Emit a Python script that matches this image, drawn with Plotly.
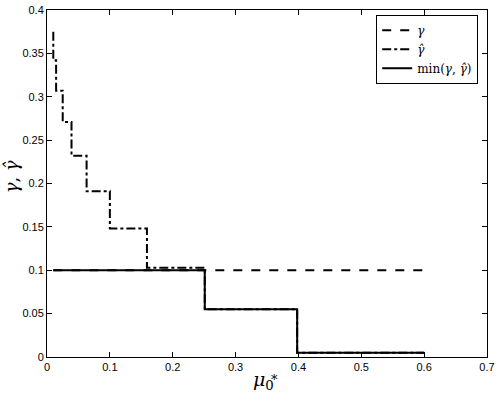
import plotly.graph_objects as go

# mu_0^* breakpoints and step values
mu_gamma = [0.01, 0.6]
gamma = [0.1, 0.1]

mu_hat = [0.01, 0.01, 0.0145, 0.025, 0.039, 0.063, 0.1, 0.159, 0.251, 0.398, 0.6]
gamma_hat = [0.375, 0.342, 0.307, 0.271, 0.232, 0.191, 0.148, 0.103, 0.055, 0.005, 0.005]

mu_min = [0.01, 0.251, 0.398, 0.6]
gamma_min = [0.1, 0.055, 0.005, 0.005]

x_ticks = [0, 0.1, 0.2, 0.3, 0.4, 0.5, 0.6, 0.7]
y_ticks = [0, 0.05, 0.1, 0.15, 0.2, 0.25, 0.3, 0.35, 0.4]

serif = 'DejaVu Serif'

fig = go.Figure()

fig.add_trace(go.Scatter(
    x=mu_gamma, y=gamma, mode='lines', name='<i>γ</i>',
    line=dict(color='black', width=2, dash='dash')))

fig.add_trace(go.Scatter(
    x=mu_hat, y=gamma_hat, mode='lines', name='<i>γ̂</i>', line_shape='hv',
    line=dict(color='black', width=2, dash='dashdot')))

fig.add_trace(go.Scatter(
    x=mu_min, y=gamma_min, mode='lines', name='min(<i>γ</i>, <i>γ̂</i>)',
    line_shape='hv', line=dict(color='black', width=2)))

axis_style = dict(
    showline=True, linecolor='black', linewidth=1, mirror='ticks',
    ticks='inside', ticklen=5, tickcolor='black', showgrid=False,
    zeroline=False, automargin=False, ticklabeloverflow='allow',
    tickfont=dict(family='Liberation Sans', size=11, color='black'))

fig.update_xaxes(range=[0, 0.7], tickvals=x_ticks,
                 ticktext=[f'{v:g}' for v in x_ticks], **axis_style)
fig.update_yaxes(range=[0, 0.4], tickvals=y_ticks,
                 ticktext=[f'{v:g}' for v in y_ticks], **axis_style)

# axis titles as annotations so the plot area stays put
fig.add_annotation(x=0.493, y=-0.068, xref='paper', yref='paper',
                   text='<i>μ</i><sub>0</sub>', showarrow=False,
                   xanchor='center', yanchor='middle',
                   font=dict(family=serif, size=19, color='black'))
fig.add_annotation(x=0.505, y=-0.064, xref='paper', yref='paper',
                   text='*', showarrow=False, xanchor='left', yanchor='middle',
                   font=dict(family=serif, size=13, color='black'))
fig.add_annotation(x=-0.08, y=0.52, xref='paper', yref='paper',
                   text='<i>γ</i>, <i>γ̂</i>', showarrow=False, textangle=-90,
                   xanchor='center', yanchor='middle',
                   font=dict(family=serif, size=18, color='black'))

fig.update_layout(
    width=498, height=395,
    margin=dict(l=47, r=11, t=10, b=38),
    plot_bgcolor='white', paper_bgcolor='white',
    legend=dict(
        x=0.98, y=0.986, xanchor='right', yanchor='top',
        bgcolor='white', bordercolor='black', borderwidth=1,
        font=dict(family=serif, size=12, color='black'),
        tracegroupgap=0, itemwidth=30),
    showlegend=True)

# page body has a default 8px margin, drop it so the figure sits at 0,0
fig.write_html("out.html", config={'displayModeBar': False},
               post_script="document.body.style.margin='0';")
